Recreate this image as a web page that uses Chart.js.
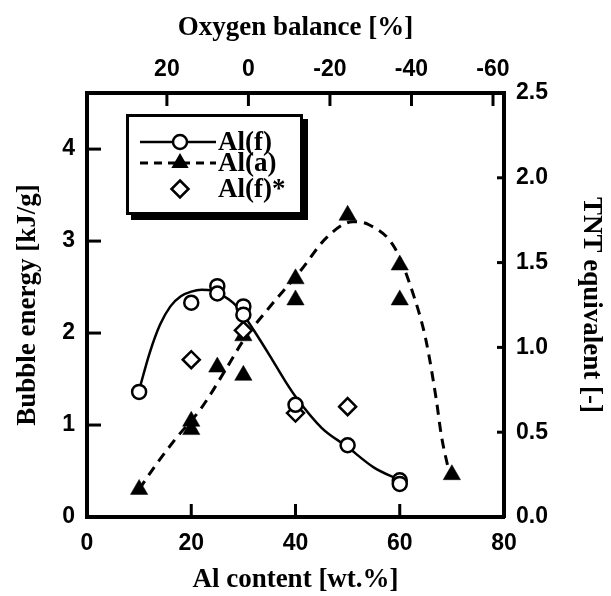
<!DOCTYPE html>
<html>
<head>
<meta charset="utf-8">
<script src="https://cdn.jsdelivr.net/npm/chart.js@4.4.1/dist/chart.umd.min.js"></script>
<style>
html,body{margin:0;padding:0;background:#fff;}
#wrap{width:611px;height:596px;}
</style>
</head>
<body>
<div id="wrap"><canvas id="c" width="611" height="596"></canvas></div>
<script>
// ---------- DATA ----------
const AL_TICKS  = [0, 20, 40, 60, 80];          // Al content [wt.%]
const OB_TICKS  = [20, 0, -20, -40, -60];       // Oxygen balance [%]
const BE_TICKS  = [0, 1, 2, 3, 4];              // Bubble energy [kJ/g]
const TNT_TICKS = [0, 0.5, 1, 1.5, 2, 2.5];     // TNT equivalent [-]

// Al(f) measured (open circles)
const alfX = [10, 20, 25, 25, 30, 30, 40, 50, 60, 60];
const alfY = [1.36, 2.33, 2.51, 2.43, 2.29, 2.20, 1.22, 0.78, 0.40, 0.36];

// Al(a) measured (filled triangles)
const alaX = [10, 20, 20, 25, 30, 30, 40, 40, 50, 60, 60, 70];
const alaY = [0.30, 1.04, 0.95, 1.63, 1.54, 1.97, 2.59, 2.36, 3.28, 2.74, 2.36, 0.46];

// Al(f)* measured (open diamonds)
const alfsX = [20, 30, 40, 50];
const alfsY = [1.71, 2.03, 1.13, 1.20];

// Al(f) fitted curve (solid)
const alfFitX = [10, 12, 14, 16, 18, 20, 22, 24, 26, 28, 30, 32, 35, 38, 40, 45, 50, 55, 60];
const alfFitY = [1.38, 1.78, 2.09, 2.29, 2.40, 2.45, 2.47, 2.46, 2.41, 2.33, 2.20, 2.03, 1.76, 1.48, 1.31, 0.97, 0.76, 0.54, 0.40];

// Al(a) fitted curve (dashed)
const alaFitX = [10, 13, 17, 22, 27, 30, 35, 41, 46, 51, 54, 59, 63, 65, 67, 68, 69.5];
const alaFitY = [0.30, 0.55, 0.85, 1.19, 1.64, 1.92, 2.28, 2.68, 3.04, 3.21, 3.18, 2.93, 2.35, 1.93, 1.28, 0.88, 0.48];

// Axis ranges
const AL_MIN = 0, AL_MAX = 80;
const OB_LEFT = 39.6, OB_RIGHT = -62.7;
const BE_MAX = 4.61;
const TNT_MAX = 2.5;

// ---------- HELPERS ----------
const pts = (xs, ys) => xs.map((x, i) => ({x, y: ys[i]}));
const SERIF = "'Liberation Serif', 'Times New Roman', serif";
const SANS  = "'Liberation Sans', Arial, Helvetica, sans-serif";
const tickFont  = {family: SANS, size: 23, weight: 'bold'};
const titleFont = {family: SERIF, size: 27, weight: 'bold'};

const innerTicks = {
  id: 'innerTicks',
  afterDatasetsDraw(chart) {
    const {ctx, chartArea: a, scales} = chart;
    ctx.save();
    ctx.strokeStyle = '#000';
    ctx.lineWidth = 3;
    ctx.lineCap = 'butt';
    const line = (x1, y1, x2, y2) => { ctx.beginPath(); ctx.moveTo(x1, y1); ctx.lineTo(x2, y2); ctx.stroke(); };
    BE_TICKS.filter(v => v > 0 && v < BE_MAX).forEach(v => {
      const p = scales.y.getPixelForValue(v); line(a.left, p, a.left + 14, p);
    });
    TNT_TICKS.filter(v => v > 0 && v < TNT_MAX).forEach(v => {
      const p = scales.y2.getPixelForValue(v); line(a.right, p, a.right - 7, p);
    });
    AL_TICKS.filter(v => v > AL_MIN && v < AL_MAX).forEach(v => {
      const p = scales.x.getPixelForValue(v); line(p, a.bottom, p, a.bottom - 13);
    });
    OB_TICKS.forEach(v => {
      const p = scales.x2.getPixelForValue(v); line(p, a.top, p, a.top + 13);
    });
    ctx.restore();
  }
};

const boxLegend = {
  id: 'boxLegend',
  afterDatasetsDraw(chart) {
    const ctx = chart.ctx;
    const ds = chart.data.datasets;
    ctx.save();
    // box with drop shadow
    ctx.fillStyle = '#000';
    ctx.fillRect(131, 119, 177, 101);
    ctx.fillStyle = '#fff';
    ctx.fillRect(127, 115, 175, 99);
    ctx.strokeStyle = '#000';
    ctx.lineWidth = 3;
    ctx.strokeRect(127.5, 115.5, 174, 98);

    const rows = [
      {y: 142, label: ds[2].label, line: 'solid', marker: 'circle'},
      {y: 163, label: ds[3].label, line: 'dash', marker: 'triangle'},
      {y: 189, label: ds[4].label, line: null, marker: 'diamond'}
    ];
    const mx = 180;
    rows.forEach(r => {
      if (r.line) {
        ctx.beginPath();
        ctx.lineWidth = r.line === 'solid' ? 2.5 : 3;
        ctx.setLineDash(r.line === 'solid' ? [] : [8, 6]);
        ctx.moveTo(140, r.y); ctx.lineTo(216, r.y);
        ctx.stroke();
        ctx.setLineDash([]);
      }
      ctx.lineWidth = 2.5;
      ctx.beginPath();
      if (r.marker === 'circle') {
        ctx.arc(mx, r.y, 7, 0, Math.PI * 2);
        ctx.fillStyle = '#fff'; ctx.fill(); ctx.stroke();
      } else if (r.marker === 'triangle') {
        const R = 10;
        ctx.moveTo(mx, r.y - R);
        ctx.lineTo(mx + R * Math.sin(2 * Math.PI / 3), r.y + R / 2);
        ctx.lineTo(mx - R * Math.sin(2 * Math.PI / 3), r.y + R / 2);
        ctx.closePath();
        ctx.fillStyle = '#000'; ctx.fill();
      } else {
        const R = 8.5;
        ctx.moveTo(mx, r.y - R); ctx.lineTo(mx + R, r.y);
        ctx.lineTo(mx, r.y + R); ctx.lineTo(mx - R, r.y);
        ctx.closePath();
        ctx.fillStyle = '#fff'; ctx.fill(); ctx.stroke();
      }
      ctx.fillStyle = '#000';
      ctx.font = "bold 27px " + SERIF;
      ctx.textBaseline = 'middle';
      ctx.textAlign = 'left';
      ctx.fillText(r.label, 218, r.y + 1);
    });
    ctx.restore();
  }
};

const fixedTicks = arr => (s => { s.ticks = arr.map(v => ({value: v})); });

new Chart(document.getElementById('c'), {
  type: 'scatter',
  data: {
    datasets: [
      { label: 'Al(f) fit', type: 'line', data: pts(alfFitX, alfFitY), xAxisID: 'x', yAxisID: 'y',
        borderColor: '#000', borderWidth: 2.5, pointRadius: 0, fill: false,
        cubicInterpolationMode: 'monotone', order: 10 },
      { label: 'Al(a) fit', type: 'line', data: pts(alaFitX, alaFitY), xAxisID: 'x', yAxisID: 'y',
        borderColor: '#000', borderWidth: 3, borderDash: [10, 7], pointRadius: 0, fill: false,
        cubicInterpolationMode: 'monotone', order: 10 },
      { label: 'Al(f)', data: pts(alfX, alfY), xAxisID: 'x', yAxisID: 'y',
        pointStyle: 'circle', pointRadius: 7, pointBorderWidth: 2.5,
        pointBackgroundColor: '#fff', pointBorderColor: '#000', order: 1 },
      { label: 'Al(a)', data: pts(alaX, alaY), xAxisID: 'x', yAxisID: 'y',
        pointStyle: 'triangle', pointRadius: 10, pointBorderWidth: 0.5,
        pointBackgroundColor: '#000', pointBorderColor: '#000', order: 2 },
      { label: 'Al(f)*', data: pts(alfsX, alfsY), xAxisID: 'x', yAxisID: 'y',
        pointStyle: 'rectRot', pointRadius: 8.5, pointBorderWidth: 2.5,
        pointBackgroundColor: '#fff', pointBorderColor: '#000', order: 1 }
    ]
  },
  options: {
    responsive: false,
    animation: false,
    devicePixelRatio: 1,
    layout: { padding: 0 },
    plugins: { legend: { display: false }, tooltip: { enabled: false } },
    scales: {
      x: {
        type: 'linear', position: 'bottom', min: AL_MIN, max: AL_MAX,
        afterBuildTicks: fixedTicks(AL_TICKS),
        afterFit: s => { s.height = 79; },
        grid: { display: false, drawTicks: false },
        border: { display: true, width: 4, color: '#000' },
        ticks: { padding: 13, color: '#000', font: tickFont, maxRotation: 0, autoSkip: false,
                 callback: v => String(v) },
        title: { display: true, text: 'Al content [wt.%]', color: '#000', font: titleFont,
                 padding: { top: 0, bottom: 0 } }
      },
      x2: {
        type: 'linear', position: 'top', min: OB_RIGHT, max: OB_LEFT, reverse: true,
        afterBuildTicks: fixedTicks(OB_TICKS),
        afterFit: s => { s.height = 93; },
        grid: { display: false, drawTicks: false },
        border: { display: true, width: 4, color: '#000' },
        ticks: { padding: 10, color: '#000', font: tickFont, maxRotation: 0, autoSkip: false,
                 callback: v => String(v) },
        title: { display: true, text: 'Oxygen balance [%]', color: '#000', font: titleFont,
                 padding: { top: 12, bottom: 0 } }
      },
      y: {
        type: 'linear', position: 'left', min: 0, max: BE_MAX,
        afterBuildTicks: fixedTicks(BE_TICKS),
        afterFit: s => { s.width = 87; },
        grid: { display: false, drawTicks: false },
        border: { display: true, width: 4, color: '#000' },
        ticks: { padding: 12, color: '#000', font: tickFont, autoSkip: false,
                 callback: v => String(v) },
        title: { display: true, text: 'Bubble energy [kJ/g]', color: '#000', font: titleFont,
                 padding: { top: 12, bottom: 0 } }
      },
      y2: {
        type: 'linear', position: 'right', min: 0, max: TNT_MAX,
        afterBuildTicks: fixedTicks(TNT_TICKS),
        afterFit: s => { s.width = 107; },
        grid: { display: false, drawTicks: false },
        border: { display: true, width: 4, color: '#000' },
        ticks: { padding: 12, color: '#000', font: tickFont, autoSkip: false,
                 callback: v => Number(v).toFixed(1) },
        title: { display: true, text: 'TNT equivalent [-]', color: '#000', font: titleFont,
                 padding: { top: 4, bottom: 0 } }
      }
    }
  },
  plugins: [innerTicks, boxLegend]
});
</script>
</body>
</html>
